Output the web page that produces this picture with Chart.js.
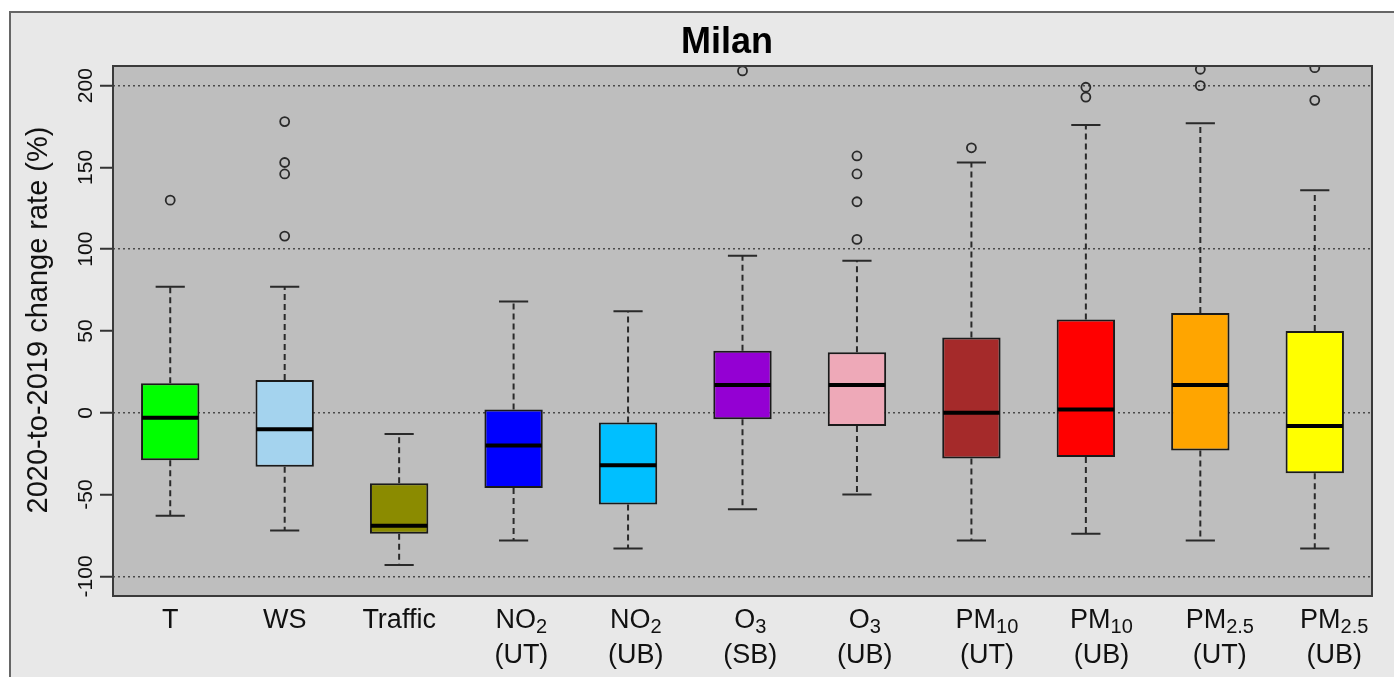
<!DOCTYPE html>
<html>
<head>
<meta charset="utf-8">
<title>Milan</title>
<script src="https://cdn.jsdelivr.net/npm/chart.js@4.4.1/dist/chart.umd.min.js"></script>
<style>
  html, body { margin: 0; padding: 0; background: #fff; }
  #wrap { width: 1394px; height: 677px; }
</style>
</head>
<body>
<div id="wrap"><canvas id="chart" width="1394" height="677"></canvas></div>
<script>
// categories and their axis label pieces (main text, subscript, site type)
const categories = ['T', 'WS', 'Traffic', 'NO2 (UT)', 'NO2 (UB)', 'O3 (SB)', 'O3 (UB)', 'PM10 (UT)', 'PM10 (UB)', 'PM2.5 (UT)', 'PM2.5 (UB)'];
const labelMain = ['T', 'WS', 'Traffic', 'NO', 'NO', 'O', 'O', 'PM', 'PM', 'PM', 'PM'];
const labelSub = ['', '', '', '2', '2', '3', '3', '10', '10', '2.5', '2.5'];
const labelSite = ['', '', '', '(UT)', '(UB)', '(SB)', '(UB)', '(UT)', '(UB)', '(UT)', '(UB)'];

// box plot stats, 2020-to-2019 change rate (%)
const whiskerLow  = [-63, -72, -93, -78, -83, -59, -50, -78, -74, -78, -83];
const q1          = [-29, -33, -74, -46, -56, -4, -8, -28, -27, -23, -37];
const median      = [-3, -10, -69, -20, -32, 17, 17, 0, 2, 17, -8];
const q3          = [18, 20, -43, 2, -6, 38, 37, 46, 57, 61, 50];
const whiskerHigh = [77, 77, -13, 68, 62, 96, 93, 153, 176, 177, 136];
const outliers = [[130], [178, 153, 146, 108], [], [], [], [209], [157, 146, 129, 106], [162], [199, 193], [210, 200], [211, 191]];

const boxColors = ['#00ff00', '#a4d3ee', '#8b8b00', '#0000ff', '#00bfff', '#9400d3', '#eea9b8', '#a52a2a', '#ff0000', '#ffa500', '#ffff00'];

const FONT = "'Liberation Sans', Arial, sans-serif";

const boxData = categories.map((c, i) => [q1[i], q3[i]]);
const outlierPoints = outliers.flatMap((list, i) => list.map(v => ({ x: categories[i], y: v })));

// background, frame and plot box
const framePlugin = {
    id: 'frame',
    beforeDraw(chart) {
        const { ctx, chartArea: a, width, height } = chart;
        ctx.save();
        ctx.fillStyle = '#ffffff';
        ctx.fillRect(0, 0, width, height);
        ctx.fillStyle = '#e8e8e8';
        ctx.fillRect(10, 12, width - 10, height - 12);
        ctx.strokeStyle = '#666';
        ctx.lineWidth = 2;
        ctx.beginPath();
        ctx.moveTo(10, height);
        ctx.lineTo(10, 12);
        ctx.lineTo(width, 12);
        ctx.stroke();
        ctx.fillStyle = '#bebebe';
        ctx.fillRect(a.left, a.top, a.right - a.left, a.bottom - a.top);
        ctx.restore();
    },
    afterDraw(chart) {
        const { ctx, chartArea: a } = chart;
        ctx.save();
        ctx.strokeStyle = '#3a3a3a';
        ctx.lineWidth = 2;
        ctx.strokeRect(a.left, a.top, a.right - a.left, a.bottom - a.top);

        // title
        ctx.fillStyle = '#000';
        ctx.font = `bold 36px ${FONT}`;
        ctx.textAlign = 'center';
        ctx.textBaseline = 'alphabetic';
        ctx.fillText('Milan', 727, 53);

        // y tick labels, rotated like base R
        const y = chart.scales.y;
        ctx.font = `21px ${FONT}`;
        ctx.fillStyle = '#111';
        y.ticks.forEach(t => {
            const py = y.getPixelForValue(t.value);
            ctx.save();
            ctx.translate(a.left - 21, py);
            ctx.rotate(-Math.PI / 2);
            ctx.fillText(String(t.value), 0, 0);
            ctx.restore();
        });

        // y axis title
        ctx.save();
        ctx.font = `29px ${FONT}`;
        ctx.translate(47, 320);
        ctx.rotate(-Math.PI / 2);
        ctx.fillText('2020-to-2019 change rate (%)', 0, 0);
        ctx.restore();

        // x labels with subscripts
        const x = chart.scales.x;
        ctx.textAlign = 'left';
        categories.forEach((c, i) => {
            const px = x.getPixelForValue(i);
            ctx.font = `27px ${FONT}`;
            const mainW = ctx.measureText(labelMain[i]).width;
            ctx.font = `20px ${FONT}`;
            const subW = labelSub[i] ? ctx.measureText(labelSub[i]).width : 0;
            const shift = labelSite[i] ? subW * 0.7 : 0;
            const start = px + shift - (mainW + subW) / 2;
            ctx.font = `27px ${FONT}`;
            ctx.fillText(labelMain[i], start, 628);
            if (labelSub[i]) {
                ctx.font = `20px ${FONT}`;
                ctx.fillText(labelSub[i], start + mainW, 633);
            }
            if (labelSite[i]) {
                ctx.font = `27px ${FONT}`;
                ctx.textAlign = 'center';
                ctx.fillText(labelSite[i], px + shift, 663);
                ctx.textAlign = 'left';
            }
        });
        ctx.restore();
    }
};

// whiskers, caps and medians drawn on top of the floating bars
const boxPlugin = {
    id: 'boxParts',
    afterDatasetsDraw(chart) {
        const { ctx } = chart;
        const y = chart.scales.y;
        const meta = chart.getDatasetMeta(0);
        ctx.save();
        meta.data.forEach((bar, i) => {
            const cx = bar.x;
            const w = bar.width;
            ctx.strokeStyle = '#2a2a2a';
            ctx.lineWidth = 2;
            ctx.setLineDash([6, 4]);
            ctx.beginPath();
            ctx.moveTo(cx, y.getPixelForValue(q3[i]));
            ctx.lineTo(cx, y.getPixelForValue(whiskerHigh[i]));
            ctx.moveTo(cx, y.getPixelForValue(q1[i]));
            ctx.lineTo(cx, y.getPixelForValue(whiskerLow[i]));
            ctx.stroke();
            ctx.setLineDash([]);
            ctx.beginPath();
            [whiskerHigh[i], whiskerLow[i]].forEach(v => {
                const py = y.getPixelForValue(v);
                ctx.moveTo(cx - w / 4, py);
                ctx.lineTo(cx + w / 4, py);
            });
            ctx.stroke();
            ctx.strokeStyle = '#000';
            ctx.lineWidth = 4;
            ctx.beginPath();
            const pm = y.getPixelForValue(median[i]);
            ctx.moveTo(cx - w / 2 + 1, pm);
            ctx.lineTo(cx + w / 2 - 1, pm);
            ctx.stroke();
        });
        ctx.restore();
    }
};

new Chart(document.getElementById('chart'), {
    type: 'bar',
    data: {
        labels: categories,
        datasets: [
            {
                type: 'bar',
                data: boxData,
                backgroundColor: boxColors,
                borderColor: '#1a1a1a',
                borderWidth: 2,
                borderSkipped: false,
                barPercentage: 0.51,
                categoryPercentage: 1,
                order: 2
            },
            {
                type: 'scatter',
                data: outlierPoints,
                pointStyle: 'circle',
                pointRadius: 4.5,
                pointBorderWidth: 1.8,
                pointBackgroundColor: 'rgba(0,0,0,0)',
                pointBorderColor: '#2a2a2a',
                showLine: false,
                clip: 0,
                order: 1
            }
        ]
    },
    options: {
        responsive: false,
        animation: false,
        font: { family: FONT },
        layout: { padding: { left: 100, top: 66, right: 22, bottom: 81 } },
        plugins: { legend: { display: false }, tooltip: { enabled: false }, title: { display: false } },
        scales: {
            x: {
                type: 'category',
                offset: true,
                grid: { display: false, drawTicks: false },
                border: { display: false },
                ticks: { display: false }
            },
            y: {
                min: -112,
                max: 212,
                afterFit: s => { s.width = 13; },
                ticks: { display: false, stepSize: 50, includeBounds: false },
                border: { display: false, dash: [2, 3] },
                grid: {
                    drawTicks: true,
                    tickLength: 13,
                    tickWidth: 2,
                    tickColor: '#333',
                    lineWidth: 1.5,
                    color: c => (c.tick && c.tick.value % 100 === 0 ? '#4a4a4a' : 'rgba(0,0,0,0)')
                }
            }
        }
    },
    plugins: [framePlugin, boxPlugin]
});
</script>
</body>
</html>
